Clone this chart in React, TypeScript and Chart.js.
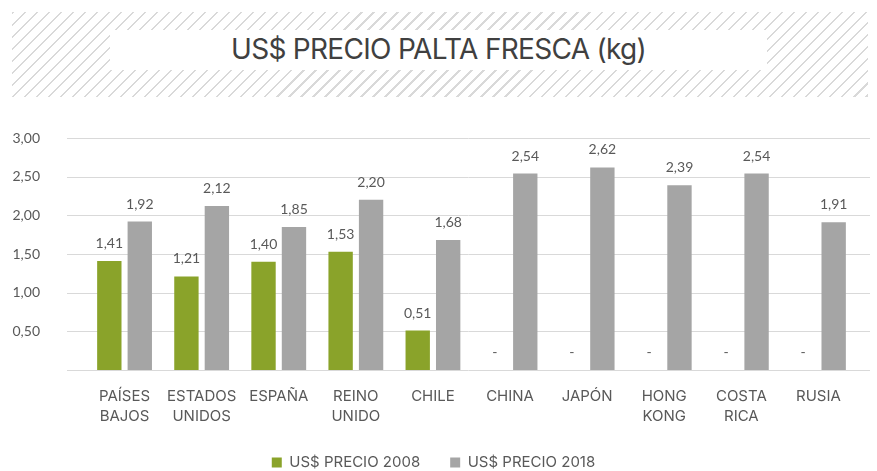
import React, { useEffect, useRef } from "react";
import { Chart, registerables } from "chart.js";

Chart.register(...registerables);

const categories: (string | string[])[] = [
  ["PAÍSES", "BAJOS"],
  ["ESTADOS", "UNIDOS"],
  "ESPAÑA",
  ["REINO", "UNIDO"],
  "CHILE",
  "CHINA",
  "JAPÓN",
  ["HONG", "KONG"],
  ["COSTA", "RICA"],
  "RUSIA",
];
const precio2008 = [1.41, 1.21, 1.4, 1.53, 0.51, 0, 0, 0, 0, 0];
const precio2018 = [1.92, 2.12, 1.85, 2.2, 1.68, 2.54, 2.62, 2.39, 2.54, 1.91];
const seriesNames = ["US$ PRECIO 2008", "US$ PRECIO 2018"];
const yTicks = [0, 0.5, 1, 1.5, 2, 2.5, 3];
const titleText = "US$ PRECIO PALTA FRESCA (kg)";

const fmt = (v: number) => (v === 0 ? "-" : v.toFixed(2).replace(".", ","));

const gridPlugin = {
  id: "extGrid",
  beforeDatasetsDraw(chart: any) {
    const y = chart.scales.y;
    const ctx = chart.ctx;
    ctx.save();
    ctx.strokeStyle = "#D9D9D9";
    ctx.lineWidth = 1;
    yTicks.forEach((t) => {
      const py = Math.round(y.getPixelForValue(t)) + 0.5;
      ctx.beginPath();
      ctx.moveTo(67, py);
      ctx.lineTo(870, py);
      ctx.stroke();
    });
    ctx.restore();
  },
};

const labelPlugin = {
  id: "valLabels",
  afterDatasetsDraw(chart: any) {
    const ctx = chart.ctx;
    ctx.save();
    ctx.fillStyle = "#595959";
    ctx.font = "14px Lato, 'Open Sans', sans-serif";
    ctx.textAlign = "center";
    ctx.textBaseline = "alphabetic";
    chart.data.datasets.forEach((ds: any, di: number) => {
      const meta = chart.getDatasetMeta(di);
      meta.data.forEach((bar: any, i: number) => {
        const v = ds.data[i];
        ctx.fillText(fmt(v), bar.x, bar.y - 13);
      });
    });
    ctx.restore();
  },
};

export default function App() {
  const ref = useRef<HTMLCanvasElement>(null);
  useEffect(() => {
    document.body.style.margin = "0";
    const chart = new Chart(ref.current!, {
      type: "bar",
      data: {
        labels: categories,
        datasets: [
          {
            label: seriesNames[0],
            data: precio2008,
            backgroundColor: "#8AA32A",
            barPercentage: 0.8,
            categoryPercentage: 0.79,
          },
          {
            label: seriesNames[1],
            data: precio2018,
            backgroundColor: "#A5A5A5",
            barPercentage: 0.8,
            categoryPercentage: 0.79,
          },
        ],
      },
      options: {
        responsive: false,
        animation: false,
        layout: { padding: { top: 138, left: 10, right: 20, bottom: -9 } },
        plugins: {
          title: { display: false },
          tooltip: { enabled: false },
          legend: {
            position: "bottom",
            labels: {
              boxWidth: 10,
              boxHeight: 10,
              padding: 30,
              color: "#595959",
              font: { family: "Inter, 'Noto Sans', sans-serif", size: 15 },
            },
          },
        },
        scales: {
          x: {
            grid: { display: false, drawTicks: false },
            border: { display: false },
            ticks: {
              color: "#595959",
              font: { family: "Inter, 'Noto Sans', sans-serif", size: 15, lineHeight: 1.3 },
              padding: 17,
              maxRotation: 0,
              autoSkip: false,
            },
            afterFit: (s: any) => {
              s.height = 55;
            },
          },
          y: {
            min: 0,
            max: 3,
            grid: { display: false, drawTicks: false, tickLength: 0 },
            border: { display: false },
            afterFit: (s: any) => {
              s.width = 76;
            },
            afterBuildTicks: (s: any) => {
              s.ticks = yTicks.map((v) => ({ value: v }));
            },
            ticks: {
              padding: 46,
              color: "#595959",
              font: { family: "Lato, 'Open Sans', sans-serif", size: 14 },
              callback: (v: any) => (Number(v) === 0 ? "" : fmt(Number(v))),
            },
          },
        },
      },
      plugins: [gridPlugin, labelPlugin],
    });
    return () => chart.destroy();
  }, []);

  return (
    <div style={{ position: "relative", width: 877, height: 471, background: "#fff" }}>
      <canvas ref={ref} width={877} height={471} style={{ position: "absolute", left: 0, top: 0 }} />
      <div
        style={{
          position: "absolute",
          left: 12,
          top: 12,
          width: 856,
          height: 85,
          backgroundImage:
            "repeating-linear-gradient(135deg, #D9D9D9 0px, #D9D9D9 1.7px, transparent 1.7px, transparent 8.5px)",
        }}
      />
      <div
        style={{
          position: "absolute",
          left: 110,
          top: 30,
          width: 657,
          height: 40,
          background: "#fff",
          display: "flex",
          alignItems: "center",
          justifyContent: "center",
          fontFamily: "Inter, 'Noto Sans', sans-serif",
          fontSize: 28,
          color: "#404040",
          letterSpacing: -0.7,
          whiteSpace: "nowrap",
          paddingBottom: 3,
          boxSizing: "border-box",
        }}
      >
        {titleText}
      </div>
    </div>
  );
}
